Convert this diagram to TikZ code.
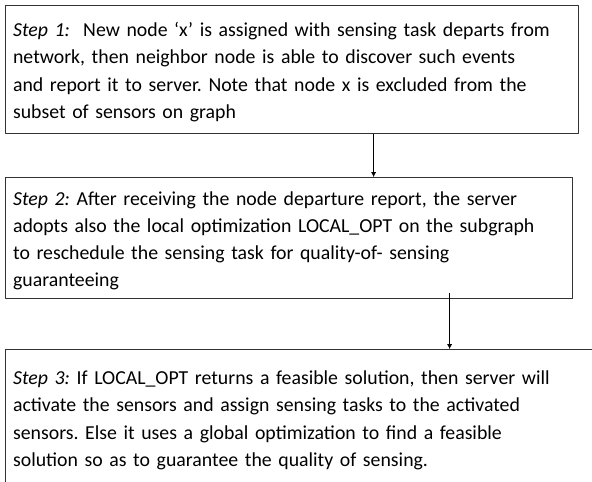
\documentclass[tikz,border=0pt]{standalone}
\usepackage{fontspec}
\setmainfont{Carlito}
\frenchspacing
\usetikzlibrary{arrows.meta}
\tikzset{
  stepbox/.style={draw=black!80,line width=1.2pt,anchor=north west,align=left,
    inner xsep=7.5pt,inner ysep=0pt,font=\fontsize{19.8}{27.3}\selectfont,text=black},
}
\begin{document}
\begin{tikzpicture}[x=1pt,y=-1pt,>={Latex[length=5pt,width=5pt]},line join=bevel]
\useasboundingbox (0,0) rectangle (592,482);
\clip (0,0) rectangle (592,482);
%%
 \node (step_1) at (5,5) [stepbox,minimum width=573pt,text width=558pt,minimum height=128pt] {\strut\textit{Step 1:}\ \ New node ‘x’ is assigned with sensing task departs from\\network, then neighbor node is able to discover such events\\and report it to server. Note that node x is excluded from the\\subset of sensors on graph};
 \node (step_2) at (5,177) [stepbox,minimum width=567pt,text width=552pt,minimum height=121pt] {\strut\textit{Step 2:} After receiving the node departure report, the server\\adopts also the local optimization LOCAL\_OPT on the subgraph\\to reschedule the sensing task for quality-of- sensing\\guaranteeing};
 \node (step_3) at (5,349) [stepbox,minimum width=600pt,text width=585pt,minimum height=136pt] {\strut\textit{Step 3:} If LOCAL\_OPT returns a feasible solution, then server will\\activate the sensors and assign sensing tasks to the activated\\sensors. Else it uses a global optimization to find a feasible\\solution so as to guarantee the quality of sensing.};

 \coordinate (arrow_1) at ([xshift=81.5pt]step_1.south);
 \coordinate (arrow_2) at ([xshift=160.5pt,yshift=6pt]step_2.south);
  \draw [black,->] (arrow_1) -- (arrow_1 |- step_2.north);
  \draw [black,->] (arrow_2) -- (arrow_2 |- step_3.north);
%
\end{tikzpicture}
\end{document}
